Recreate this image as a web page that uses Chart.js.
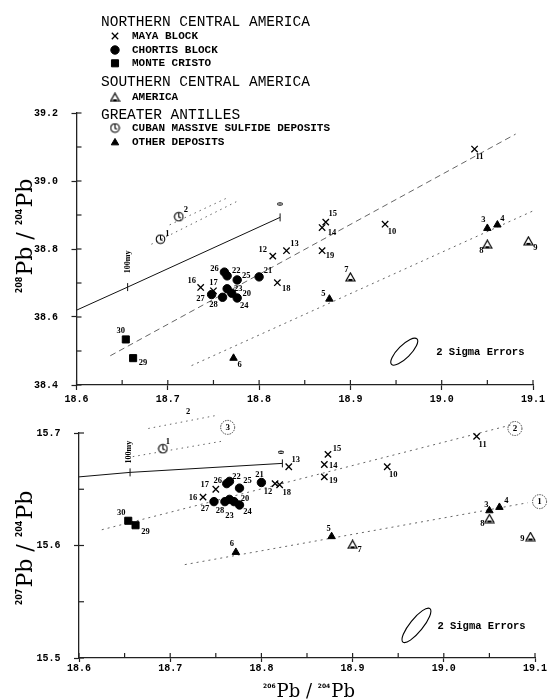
<!DOCTYPE html>
<html>
<head>
<meta charset="utf-8">
<script src="https://cdn.jsdelivr.net/npm/chart.js@4.4.0/dist/chart.umd.min.js"></script>
<style>
  body { margin: 0; background: #fff; }
  #top { position: absolute; left: 0; top: 0; width: 549px; height: 405px; }
  #bot { position: absolute; left: 0; top: 405px; width: 549px; height: 294px; }
</style>
</head>
<body>
<div id="top"><canvas id="c1"></canvas></div>
<div id="bot"><canvas id="c2"></canvas></div>
<script>
// samples (206Pb/204Pb is shared by both panels)
const cubanIds = [1, 2];
const cuban206 = [18.692, 18.712];
const cuban208 = [38.829, 38.895];
const cuban207 = [15.686, 15.713];

const otherIds = [3, 4, 5, 6];
const other206 = [19.050, 19.061, 18.877, 18.772];
const other208 = [38.861, 38.871, 38.653, 38.479];
const other207 = [15.631, 15.634, 15.608, 15.594];

const americaIds = [7, 8, 9];
const america206 = [18.900, 19.050, 19.095];
const america208 = [38.718, 38.814, 38.824];
const america207 = [15.601, 15.624, 15.608];

const mayaIds = [10, 11, 12, 13, 14, 15, 16, 17, 18, 19];
const maya206 = [18.938, 19.036, 18.815, 18.830, 18.869, 18.873, 18.736, 18.750, 18.820, 18.869];
const maya208 = [38.873, 39.094, 38.779, 38.795, 38.863, 38.879, 38.687, 38.677, 38.701, 38.795];
const maya207 = [15.670, 15.697, 15.655, 15.670, 15.672, 15.681, 15.643, 15.650, 15.654, 15.661];

const chortisIds = [20, 21, 22, 23, 24, 25, 26, 27, 28];
const chortis206 = [18.770, 18.800, 18.765, 18.765, 18.776, 18.776, 18.762, 18.748, 18.760];
const chortis208 = [38.670, 38.718, 38.721, 38.683, 38.656, 38.709, 38.732, 38.666, 38.658];
const chortis207 = [15.639, 15.656, 15.657, 15.641, 15.636, 15.651, 15.655, 15.639, 15.639];

const monteIds = [29, 30];
const monte206 = [18.662, 18.654];
const monte208 = [38.479, 38.534];
const monte207 = [15.618, 15.622];

// growth curve segment: start, 100 my, 0
const growth206 = [18.600, 18.656, 18.823];
const growth208 = [38.620, 38.688, 38.893];
const growth207 = [15.661, 15.665, 15.673];

// reference lines, upper panel
const topMid206 = [18.637, 19.081];
const topMid208 = [38.486, 39.138];
const topLow206 = [18.726, 19.100];
const topLow208 = [38.457, 38.912];
const topCubA206 = [18.682, 18.775];
const topCubA208 = [38.814, 38.939];
const topCubB206 = [18.702, 18.764];
const topCubB208 = [38.871, 38.949];

// reference lines, lower panel
const botMid206 = [18.625, 19.073];
const botMid207 = [15.614, 15.707];
const botLow206 = [18.716, 19.092];
const botLow207 = [15.583, 15.638];
const botCubA206 = [18.659, 18.759];
const botCubA207 = [15.679, 15.693];
const botCubB206 = [18.676, 18.753];
const botCubB207 = [15.704, 15.716];

const ringLabels = ['3', '2', '1'];
const ring206 = [18.763, 19.078, 19.105];
const ring207 = [15.705, 15.704, 15.639];

const xTicks = [18.6, 18.65, 18.7, 18.75, 18.8, 18.85, 18.9, 18.95, 19.0, 19.05, 19.1];
const y208Ticks = [38.4, 38.5, 38.6, 38.7, 38.8, 38.9, 39.0, 39.1, 39.2];
const y207Ticks = [15.5, 15.55, 15.6, 15.65, 15.7];

const groupNames = ['NORTHERN CENTRAL AMERICA', 'MAYA BLOCK', 'CHORTIS BLOCK', 'MONTE CRISTO',
  'SOUTHERN CENTRAL AMERICA', 'AMERICA', 'GREATER ANTILLES', 'CUBAN MASSIVE SULFIDE DEPOSITS', 'OTHER DEPOSITS'];

// custom marker glyphs
function cubanGlyph() {
  const c = document.createElement('canvas');
  c.width = 11; c.height = 11;
  const g = c.getContext('2d');
  g.strokeStyle = '#000'; g.lineWidth = 1.1;
  g.beginPath(); g.arc(5.5, 5.5, 4.3, 0, Math.PI * 2); g.stroke();
  g.beginPath(); g.moveTo(5.5, 1.5); g.lineTo(5.5, 5.8); g.lineTo(7.6, 6.8); g.stroke();
  return c;
}
function americaGlyph() {
  const c = document.createElement('canvas');
  c.width = 11; c.height = 10;
  const g = c.getContext('2d');
  g.strokeStyle = '#000'; g.fillStyle = '#000'; g.lineWidth = 1.2;
  g.beginPath(); g.moveTo(5.5, 1); g.lineTo(10, 9); g.lineTo(1, 9); g.closePath(); g.stroke();
  g.fillRect(3.5, 7, 4, 2);
  return c;
}
const cubanStyle = cubanGlyph();
const americaStyle = americaGlyph();

function pts(xs, ys) { return xs.map((x, i) => ({ x: x, y: ys[i] })); }
function majorEvery(step) { return v => Math.abs(v / step - Math.round(v / step)) < 1e-6; }

function markerSets(y1, y2, y3, y4, y5, y6) {
  return [
    { label: 'MAYA BLOCK', ids: mayaIds, data: pts(maya206, y1), pointStyle: 'crossRot', pointRadius: 4.5, borderColor: '#000', borderWidth: 1.3 },
    { label: 'CHORTIS BLOCK', ids: chortisIds, data: pts(chortis206, y2), pointStyle: 'circle', pointRadius: 4.2, backgroundColor: '#000', borderColor: '#000', borderWidth: 1 },
    { label: 'MONTE CRISTO', ids: monteIds, data: pts(monte206, y3), pointStyle: 'rect', pointRadius: 5, backgroundColor: '#000', borderColor: '#000', borderWidth: 1 },
    { label: 'AMERICA', ids: americaIds, data: pts(america206, y4), pointStyle: americaStyle, pointRadius: 5 },
    { label: 'CUBAN MASSIVE SULFIDE DEPOSITS', ids: cubanIds, data: pts(cuban206, y5), pointStyle: cubanStyle, pointRadius: 5 },
    { label: 'OTHER DEPOSITS', ids: otherIds, data: pts(other206, y6), pointStyle: 'triangle', pointRadius: 4.3, backgroundColor: '#000', borderColor: '#000', borderWidth: 1 }
  ];
}
function lineSet(xs, ys, dash, w) {
  return { data: pts(xs, ys), showLine: true, pointRadius: 0, borderColor: '#555', borderWidth: w || 0.9, borderDash: dash, tension: 0 };
}
function growthSet(ys) {
  return { data: pts(growth206, ys), showLine: true, borderColor: '#111', borderWidth: 1, tension: 0,
    pointStyle: 'line', pointRadius: [0, 4, 4], rotation: 90, pointBorderColor: '#111', pointBorderWidth: 1 };
}

const tickFont = { family: 'Liberation Mono', size: 10, weight: 'bold' };

function xAxis(tickLen, pad, height) {
  const major = majorEvery(0.1);
  return {
    type: 'linear', min: 18.6, max: 19.1,
    afterBuildTicks: s => { s.ticks = xTicks.map(v => ({ value: v })); },
    afterFit: s => { s.height = height; },
    ticks: { autoSkip: false, maxRotation: 0, padding: pad, color: '#000', font: tickFont,
      callback: v => major(v) ? v.toFixed(1) : '' },
    grid: { drawOnChartArea: false, drawTicks: true, tickLength: tickLen, tickWidth: 1.2,
      tickColor: c => (c.tick && major(c.tick.value)) ? '#222' : 'rgba(0,0,0,0)' },
    border: { display: true, color: '#222', width: 1.3 }
  };
}
function yAxis(min, max, tickVals, step, width) {
  const major = majorEvery(step);
  return {
    type: 'linear', min: min, max: max,
    afterBuildTicks: s => { s.ticks = tickVals.map(v => ({ value: v })); },
    afterFit: s => { s.width = width; },
    ticks: { autoSkip: false, padding: 13.5, color: '#000', font: tickFont,
      callback: v => major(v) ? v.toFixed(1) : '' },
    grid: { drawOnChartArea: false, drawTicks: true, tickLength: 5, tickWidth: 1.2,
      tickColor: c => (c.tick && major(c.tick.value)) ? '#222' : 'rgba(0,0,0,0)' },
    border: { display: true, color: '#222', width: 1.3 }
  };
}

// inward tick marks
const innerTicks = {
  id: 'innerTicks',
  afterDraw(chart) {
    const ctx = chart.ctx, a = chart.chartArea;
    ctx.save();
    ctx.strokeStyle = '#222'; ctx.lineWidth = 1.2;
    chart.scales.x.ticks.forEach(t => {
      const px = chart.scales.x.getPixelForValue(t.value);
      ctx.beginPath(); ctx.moveTo(px, a.bottom); ctx.lineTo(px, a.bottom - 5); ctx.stroke();
    });
    chart.scales.y.ticks.forEach(t => {
      const py = chart.scales.y.getPixelForValue(t.value);
      ctx.beginPath(); ctx.moveTo(a.left, py); ctx.lineTo(a.left + 5, py); ctx.stroke();
    });
    ctx.restore();
  }
};

// isotope ratio titles with small superscripts
function ratioTitle(items) {
  return {
    id: 'ratioTitle',
    afterDraw(chart) {
      const ctx = chart.ctx;
      items.forEach(it => {
        const big = it.size + 'px "DejaVu Serif"';
        const sup = 'bold ' + Math.round(it.size * 0.36) + 'px "DejaVu Sans"';
        const parts = [[sup, it.num], [big, 'Pb'], [big, ' / '], [sup, '204'], [big, 'Pb']];
        ctx.save();
        ctx.fillStyle = '#000';
        ctx.textBaseline = 'alphabetic'; ctx.textAlign = 'left';
        const widths = parts.map(p => { ctx.font = p[0]; return ctx.measureText(p[1]).width + (p[0] === sup ? 1 : 0); });
        const total = widths.reduce((a, b) => a + b, 0);
        ctx.translate(it.cx, it.cy);
        ctx.rotate(it.rot * Math.PI / 180);
        const cap = it.size * 0.73;
        let x = -total / 2;
        parts.forEach((p, i) => {
          ctx.font = p[0];
          ctx.fillText(p[1], x, p[0] === sup ? cap / 2 - cap * 0.62 : cap / 2);
          x += widths[i];
        });
        ctx.restore();
      });
    }
  };
}

function labelPlugin(offsets) {
  return {
    id: 'pointLabels',
    afterDatasetsDraw(chart) {
      const ctx = chart.ctx;
      ctx.save();
      ctx.font = 'bold 8.5px "Liberation Serif"';
      ctx.fillStyle = '#000'; ctx.textAlign = 'center'; ctx.textBaseline = 'middle';
      chart.data.datasets.forEach((ds, di) => {
        if (!ds.ids) return;
        chart.getDatasetMeta(di).data.forEach((el, i) => {
          const off = offsets[ds.ids[i]] || [6, -6];
          ctx.fillText(String(ds.ids[i]), el.x + off[0], el.y + off[1]);
        });
      });
      ctx.restore();
    }
  };
}

function notesPlugin(notes) {
  return {
    id: 'notes',
    afterDatasetsDraw(chart) {
      const ctx = chart.ctx, sx = chart.scales.x, sy = chart.scales.y;
      ctx.save();
      ctx.fillStyle = '#000'; ctx.strokeStyle = '#000';
      notes.forEach(n => {
        const px = sx.getPixelForValue(n.x), py = sy.getPixelForValue(n.y);
        if (n.kind === 'text') {
          ctx.save();
          ctx.translate(px, py); ctx.rotate((n.rot || 0) * Math.PI / 180);
          ctx.font = n.font; ctx.textAlign = n.align || 'center'; ctx.textBaseline = 'middle';
          ctx.fillText(n.text, 0, 0);
          ctx.restore();
        } else if (n.kind === 'ellipse') {
          ctx.lineWidth = 1.1;
          ctx.beginPath(); ctx.ellipse(px, py, n.rx, n.ry, n.rot * Math.PI / 180, 0, Math.PI * 2); ctx.stroke();
        }
      });
      ctx.restore();
    }
  };
}

const ringPlugin = {
  id: 'rings',
  afterDatasetsDraw(chart) {
    const ctx = chart.ctx, sx = chart.scales.x, sy = chart.scales.y;
    ctx.save();
    ctx.strokeStyle = '#333'; ctx.fillStyle = '#000'; ctx.lineWidth = 0.9;
    ctx.setLineDash([1.5, 1]);
    ctx.font = 'bold 9px "Liberation Serif"'; ctx.textAlign = 'center'; ctx.textBaseline = 'middle';
    ringLabels.forEach((t, i) => {
      const px = sx.getPixelForValue(ring206[i]), py = sy.getPixelForValue(ring207[i]);
      ctx.beginPath(); ctx.arc(px, py, 7, 0, Math.PI * 2); ctx.stroke();
      ctx.fillText(t, px, py + 0.5);
    });
    ctx.restore();
  }
};

const groupLegend = {
  id: 'groupLegend',
  afterDraw(chart) {
    const ctx = chart.ctx;
    const rows = [
      { t: 0, y: 21.7, head: true }, { t: 1, y: 36, ds: 0 }, { t: 2, y: 50, ds: 1 }, { t: 3, y: 63.3, ds: 2 },
      { t: 4, y: 81.7, head: true }, { t: 5, y: 97.3, ds: 3 },
      { t: 6, y: 115, head: true }, { t: 7, y: 128, ds: 4 }, { t: 8, y: 142.7, ds: 5 }
    ];
    ctx.save();
    ctx.fillStyle = '#000'; ctx.strokeStyle = '#000';
    ctx.textAlign = 'left'; ctx.textBaseline = 'middle';
    rows.forEach(r => {
      if (r.head) {
        ctx.font = '14.5px "Liberation Mono"';
        ctx.fillText(groupNames[r.t], 101, r.y);
      } else {
        ctx.font = 'bold 11px "Liberation Mono"';
        ctx.fillText(groupNames[r.t], 132, r.y);
        const ds = chart.data.datasets[r.ds];
        ctx.lineWidth = ds.borderWidth || 1;
        Chart.helpers.drawPoint(ctx, { pointStyle: ds.pointStyle, radius: ds.pointRadius, rotation: 0, borderWidth: ds.borderWidth || 1 }, 115, r.y);
      }
    });
    ctx.restore();
  }
};

const topOffsets = {
  1: [7, -5], 2: [7, -7], 3: [-4, -8], 4: [5, -6], 5: [-6, -5], 6: [6, 7], 7: [-4, -7], 8: [-6, 7], 9: [7, 7],
  10: [7, 8], 11: [5, 8], 12: [-10, -6], 13: [8, -7], 14: [10, 5], 15: [7, -8], 16: [-9, -7], 17: [0, -8],
  18: [9, 6], 19: [8, 5], 20: [15, 1], 21: [9, -6], 22: [9, -5], 23: [11, 0], 24: [7, 8], 25: [9, -4],
  26: [-10, -3], 27: [-11, 4], 28: [-9, 8], 29: [10, 5], 30: [-5, -9]
};
const botOffsets = {
  1: [5, -7], 2: [7, -7], 3: [-3, -6], 4: [7, -6], 5: [-3, -8], 6: [-4, -8], 7: [7, 5], 8: [-7, 5], 9: [-8, 2],
  10: [6, 8], 11: [6, 8], 12: [-7, 8], 13: [7, -7], 14: [9, 1], 15: [9, -6], 16: [-10, 1], 17: [-11, -4],
  18: [7, 8], 19: [9, 4], 20: [11, -3], 21: [-2, -8], 22: [7, -5], 23: [0, 16], 24: [8, 7], 25: [8, -7],
  26: [-9, -3], 27: [-9, 7], 28: [-5, 9], 29: [10, 7], 30: [-7, -8]
};

const smallBold = 'bold 8px "Liberation Serif"';
const sigmaFont = 'bold 10.5px "Liberation Mono"';
const topNotes = [
  { kind: 'text', x: 18.656, y: 38.762, text: '100my', rot: -90, font: smallBold },
  { kind: 'text', x: 18.824, y: 38.932, text: '0', rot: -90, font: smallBold },
  { kind: 'ellipse', x: 18.959, y: 38.498, rx: 18, ry: 6.3, rot: -45 },
  { kind: 'text', x: 18.994, y: 38.497, text: '2 Sigma Errors', align: 'left', font: sigmaFont }
];
const botNotes = [
  { kind: 'text', x: 18.655, y: 15.683, text: '100my', rot: -90, font: smallBold },
  { kind: 'text', x: 18.823, y: 15.683, text: '0', rot: -90, font: smallBold },
  { kind: 'ellipse', x: 18.970, y: 15.529, rx: 21.5, ry: 6.5, rot: -51 },
  { kind: 'text', x: 18.993, y: 15.528, text: '2 Sigma Errors', align: 'left', font: sigmaFont }
];

Chart.defaults.font.family = 'Liberation Mono';
Chart.defaults.color = '#000';

const topSets = [].concat(
  markerSets(maya208, chortis208, monte208, america208, cuban208, other208),
  [growthSet(growth208),
   lineSet(topMid206, topMid208, [6, 4]),
   lineSet(topLow206, topLow208, [2, 4]),
   lineSet(topCubA206, topCubA208, [1.5, 4]),
   lineSet(topCubB206, topCubB208, [1.5, 4])]
);
topSets.forEach(d => { d.clip = false; });

new Chart(document.getElementById('c1'), {
  type: 'scatter',
  data: { datasets: topSets },
  options: {
    responsive: true, maintainAspectRatio: false, animation: false,
    layout: { padding: { left: 0, right: 16, top: 113, bottom: 0 } },
    plugins: { legend: { display: false }, tooltip: { enabled: false } },
    scales: {
      x: xAxis(5, 3, 20),
      y: yAxis(38.4, 39.2, y208Ticks, 0.2, 76.5)
    }
  },
  plugins: [innerTicks, labelPlugin(topOffsets), notesPlugin(topNotes), groupLegend,
    ratioTitle([{ num: '208', cx: 24, cy: 236, rot: -90, size: 22 }])]
});

const botSets = [].concat(
  markerSets(maya207, chortis207, monte207, america207, cuban207, other207),
  [growthSet(growth207),
   lineSet(botMid206, botMid207, [2, 4]),
   lineSet(botLow206, botLow207, [2, 4]),
   lineSet(botCubA206, botCubA207, [1.5, 4]),
   lineSet(botCubB206, botCubB207, [1.5, 4])]
);
botSets.forEach(d => { d.clip = false; });

new Chart(document.getElementById('c2'), {
  type: 'scatter',
  data: { datasets: botSets },
  options: {
    responsive: true, maintainAspectRatio: false, animation: false,
    layout: { padding: { left: 0, right: 14, top: 28, bottom: 0 } },
    plugins: { legend: { display: false }, tooltip: { enabled: false } },
    scales: {
      x: xAxis(4, 0, 41),
      y: yAxis(15.5, 15.7, y207Ticks, 0.1, 79)
    }
  },
  plugins: [innerTicks, labelPlugin(botOffsets), notesPlugin(botNotes), ringPlugin,
    ratioTitle([{ num: '207', cx: 24, cy: 143, rot: -90, size: 22 },
                { num: '206', cx: 309, cy: 285, rot: 0, size: 18 }])]
});
</script>
</body>
</html>
